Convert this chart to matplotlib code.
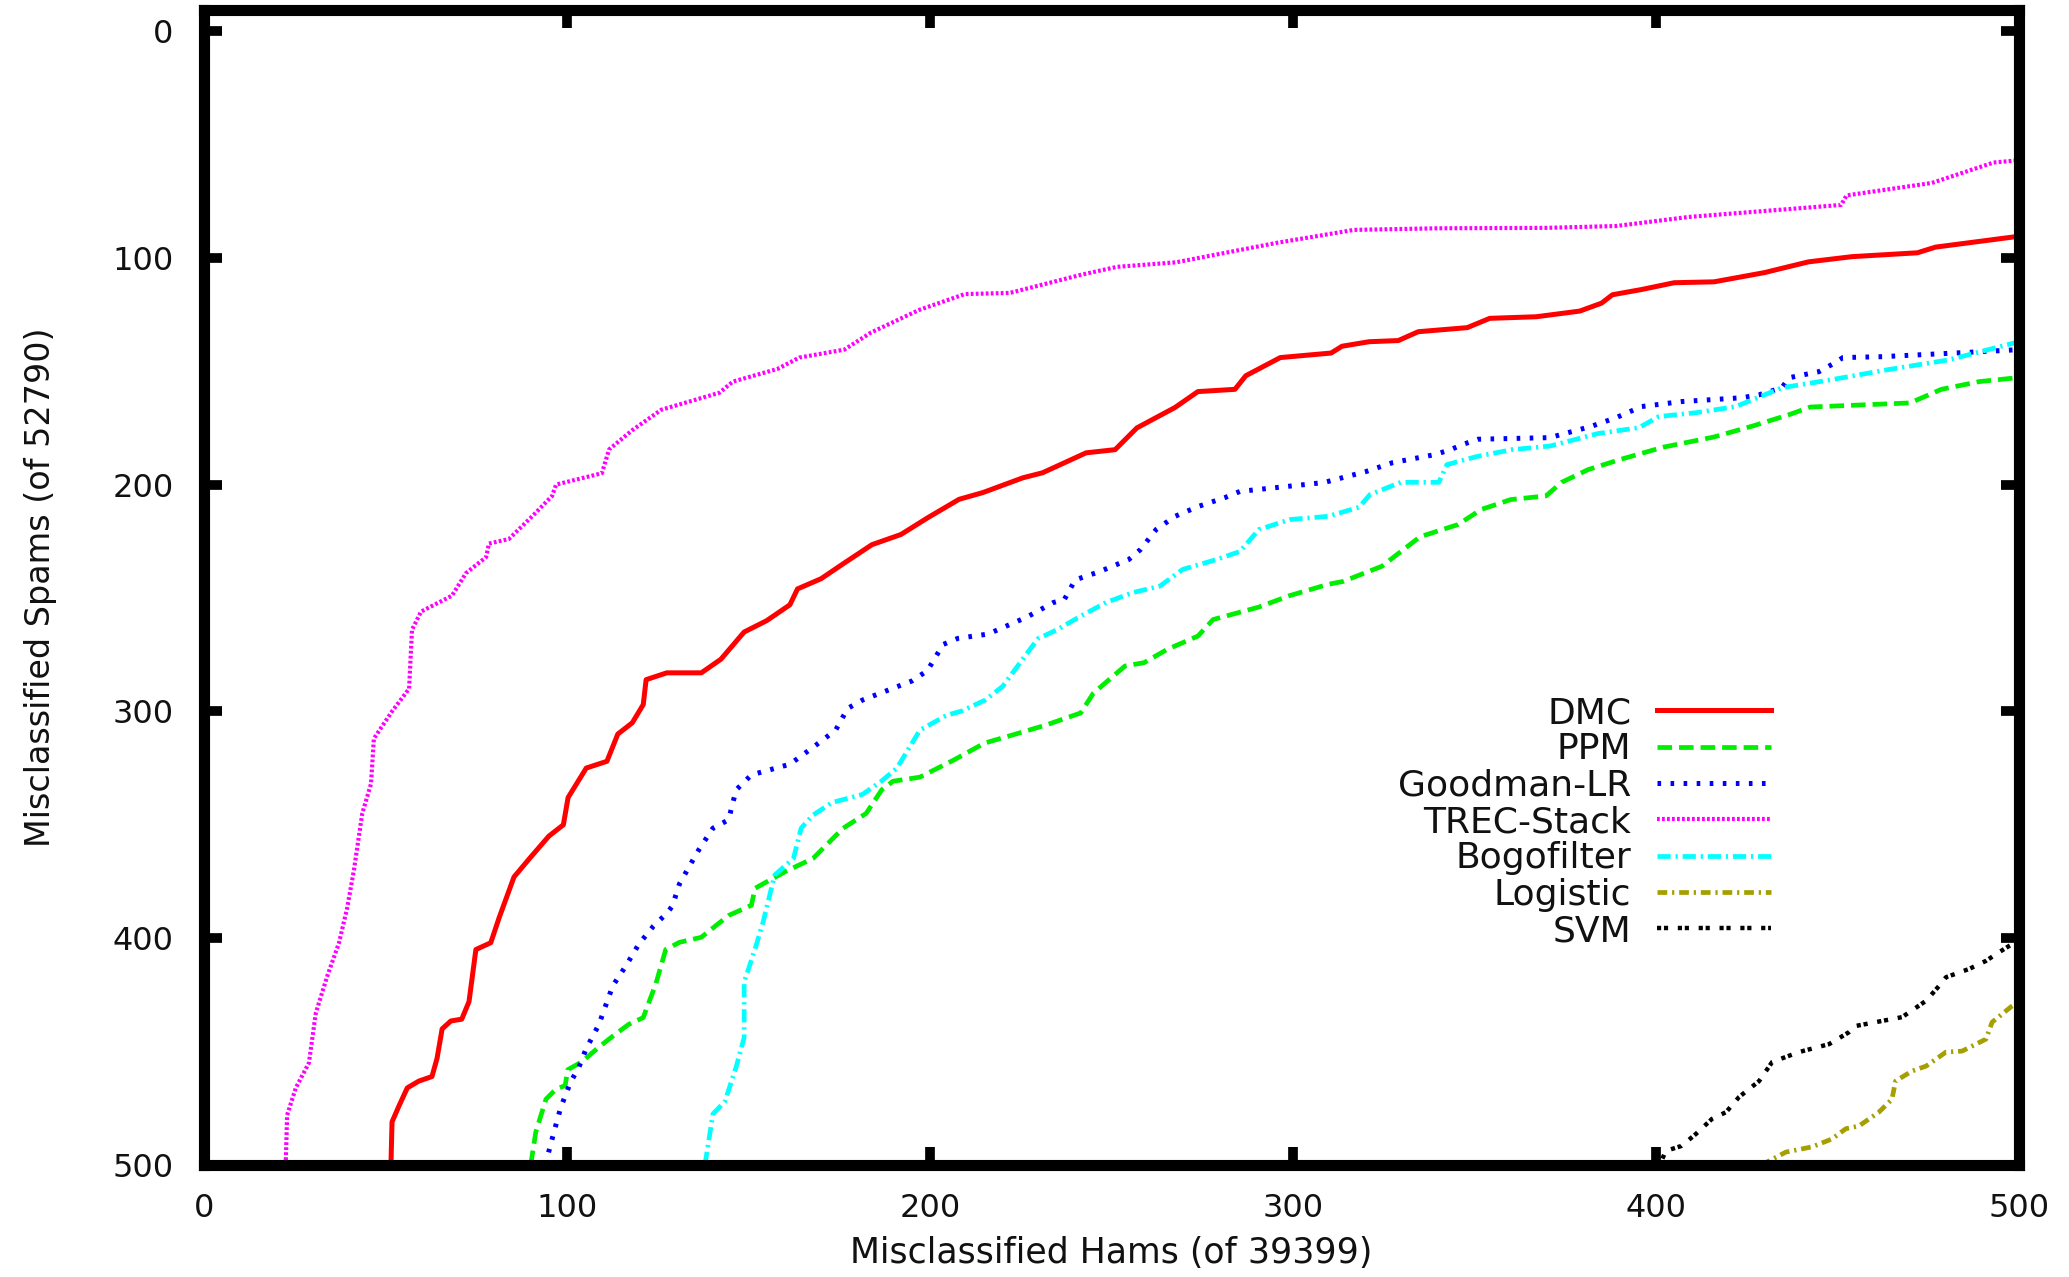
import matplotlib
matplotlib.use("Agg")
import matplotlib.pyplot as plt

plt.rcParams['font.family'] = ['DejaVu Sans']
plt.rcParams['lines.scale_dashes'] = False

# misclassified hams (x) vs misclassified spams (y)
dmc_x = [51.5, 51.8, 53.7, 56, 59.2, 62.8, 64.2, 65.6, 68, 71, 73, 74.9, 79, 81.3, 85.4, 89.6, 95, 99,
         100.3, 105.3, 111, 114, 118, 121, 121.8, 127.5, 137, 142.4, 148.8, 155, 161.4, 163.5, 170, 176,
         184, 192, 199.5, 208, 214.6, 225.6, 231, 243, 251, 257, 267.5, 273.8, 284, 287, 296.5, 310.5,
         313.5, 321, 329, 334.5, 348, 354.2, 367, 379, 385, 388, 396, 405, 416, 430, 433, 442, 454, 472,
         477, 500]
dmc_y = [500, 481, 474, 466, 463, 461, 453, 440, 436.5, 435.7, 428, 405, 402, 391, 373, 365, 355, 350,
         338, 325, 322, 310, 305, 297, 286, 283, 283, 277, 265, 260, 253, 246, 241.5, 235,
         226.5, 222, 214.5, 206.5, 203.5, 197, 194.8, 186, 184.6, 175, 166, 159, 158, 152, 144, 142,
         139, 137, 136.5, 132.6, 130.8, 126.7, 126, 123.5, 120, 116.3, 114, 111, 110.6, 106.5, 105.3, 101.8,
         99.5, 97.8, 95.3, 90.5]

ppm_x = [90, 91.4, 94.2, 97, 99.5, 100.2, 104, 108.8, 113, 117, 121, 124.5, 127.2, 131, 137, 144.5, 150.8,
         151.8, 160.3, 167.8, 176, 182.4, 186.7, 189.8, 197.2, 206.6, 215, 223.6, 232, 241.5, 245, 253.7,
         259, 265.3, 273.8, 278, 290.6, 299, 309.6, 313.8, 324.5, 335, 345.5, 351.8, 360, 369.7, 374,
         381.3, 390, 402, 416, 427, 437, 442.5, 470, 478.6, 489, 500]
ppm_y = [500, 485.5, 471, 466.5, 465, 458, 454.6, 448, 442.7, 438, 435, 420, 405, 401.8, 399.6, 390, 385.5,
         378, 370.5, 364.8, 351.6, 345, 334.6, 330.8, 329, 321.4, 314, 310, 306, 300.7, 292, 280,
         278.5, 272.7, 266.8, 259.5, 254, 249, 244, 242.7, 236, 223, 217.6, 211, 206.6, 205, 199,
         193.4, 189, 183.5, 179, 174, 169, 165.8, 164, 158, 154.6, 152.8]

goodman_x = [94, 96.4, 98.3, 101, 103.3, 105.2, 108.8, 112.6, 116.3, 119.8, 123.8, 127.5, 129, 131, 134.7,
             136.4, 140.2, 144.5, 146.6, 150.8, 161.4, 167.8, 174, 177.3, 181.4, 195, 199.3, 203.6, 207.7,
             216, 226.7, 234, 237, 240, 246.5, 254.8, 258, 262.3, 267.5, 273.8, 281.3, 285.4, 308.5, 320,
             327.5, 339, 343.4, 346.6, 351, 370.7, 382, 389, 396, 407, 423.7, 428.4, 434.7, 436.6, 444.9,
             448.5, 451.5, 462.3, 483.5, 500]
goodman_y = [500, 485.5, 474.5, 463.4, 456.8, 449, 438, 421, 412, 402.6, 394.7, 389, 385.9, 376, 365.5,
             360.8, 351.5, 347.8, 334.6, 328, 323.3, 315.8, 308.3, 298.7, 295, 286.6, 282, 270.5, 267.8,
             265.9, 258.4, 252, 250.7, 242, 238.5, 233, 228.6, 219.8, 214, 209.7, 205.7, 203, 199.1, 194.3,
             190.3, 186.8, 184.6, 182.4, 180, 179.3, 174.4, 170.5, 165.6, 163.4, 161.7, 160.4, 157.3, 152.9,
             150.2, 147, 144, 143.6, 141.9, 140.5]

trec_x = [22.5, 22.9, 25.3, 28.9, 30.8, 33.9, 37.2, 39.4, 41.3, 43.6, 46, 46.8, 51.8, 56.5, 57.3, 59.8,
          68.3, 72.2, 77.7, 78.5, 84, 90.4, 95.9, 97, 109.6, 111.6, 118, 126, 142, 145.7, 158, 164, 176.4,
          183.7, 197, 209.6, 222, 241.6, 251.5, 267.8, 295.6, 316.8, 340, 370, 389, 409, 451, 452.5, 476,
          493, 500]
trec_y = [500, 478, 466, 455, 433, 417, 402, 387, 370, 345, 332, 312, 300, 290, 264, 256,
          249, 239, 232, 226, 224, 214, 205, 200, 195, 184.5, 176, 167, 159.5, 154.6, 149, 144, 140.5,
          133, 123, 116, 115.5, 107.5, 104, 102, 93.4, 87.7, 87, 86.8, 86, 82, 76.7, 72.5, 67,
          58, 57]

bogo_x = [138, 140.2, 143.5, 146.6, 148.8, 148.8, 151.9, 154, 157.2, 162.4, 164.5, 167.7, 173, 181.4,
          186.6, 190.9, 197.2, 204.6, 208.8, 215.2, 220, 225.3, 229.7, 235, 241.5, 248.5, 255.9, 263.3,
          269.6, 279, 285.4, 290.6, 299.2, 309.6, 318.2, 321.2, 329.7, 340.2, 342.4, 350.7, 360.3, 370.8,
          384, 395.3, 400.8, 411, 422, 434.7, 448.5, 464, 480.7, 500]
bogo_y = [500, 477.5, 472, 456.8, 443.8, 419.4, 404.3, 393, 372.2, 364.8, 351.5, 345.8, 340.2, 336.6,
          330.8, 325, 308.3, 301.7, 299.8, 295, 289, 277.5, 268, 264, 258, 252, 247.6, 244.8,
          237.4, 233, 229.5, 219.8, 215.4, 214, 210, 204.4, 199, 199, 191.2, 187.6, 184.6, 183,
          177.5, 174.9, 170, 168.3, 165.6, 157.3, 153.7, 149.3, 145, 137]

logistic_x = [429, 435.8, 443, 448.5, 452.3, 455.9, 461.4, 465, 466, 470.5, 474.4, 479.9, 484.3, 490.9,
              492.6, 498, 500]
logistic_y = [500, 494.3, 492, 488.5, 484, 482.8, 476.7, 471, 463, 458.6, 456.4, 450.2, 449.8, 444.5,
              437, 430, 428]

svm_x = [401, 402.7, 407, 411, 415.4, 419.3, 422.9, 428.4, 432, 439.4, 447.7, 453.2, 455, 467.8, 474.4,
         478, 479.9, 486.2, 490.9, 494.5, 497.2, 500]
svm_y = [500, 493.8, 491.6, 486.3, 479.7, 476.7, 470, 463, 454.6, 450.2, 446.7, 441.4, 438.7, 434.8, 427.6,
         421, 417.2, 413.6, 410, 406.2, 403.5, 401]

x_ticks = [0, 100, 200, 300, 400, 500]
y_ticks = [0, 100, 200, 300, 400, 500]

fig = plt.figure(figsize=(20.69, 12.77), dpi=100)
ax = fig.add_axes([204 / 2069, 1 - 1165 / 1277, (2019 - 204) / 2069, (1165 - 10) / 1277])

ax.plot(dmc_x, dmc_y, color='#ff0000', lw=3.6, solid_joinstyle='round', label='DMC')
ax.plot(ppm_x, ppm_y, color='#00ee00', lw=3.4, dashes=(10.5, 5), label='PPM')
ax.plot(goodman_x, goodman_y, color='#0000ff', lw=3.6, dashes=(2.6, 6.8), label='Goodman-LR')
ax.plot(trec_x, trec_y, color='#ff00ff', lw=3.0, dashes=(2.0, 1.6), label='TREC-Stack')
ax.plot(bogo_x, bogo_y, color='#00ffff', lw=3.4, dashes=(9.5, 3.5, 1.6, 3.5), label='Bogofilter')
ax.plot(logistic_x, logistic_y, color='#a5a000', lw=3.4, dashes=(7, 3.5, 1.6, 3.5), label='Logistic')
ax.plot(svm_x, svm_y, color='#000000', lw=3.2, dashes=(3, 2, 3, 7), label='SVM')

ax.set_xlim(0, 500)
ax.set_ylim(500, -9.25)
ax.set_xticks(x_ticks)
ax.set_yticks(y_ticks)

for s in ax.spines.values():
    s.set_linewidth(8)
ax.tick_params(direction='in', length=13, width=7, labelsize=23, top=True, right=True,
               colors='black', labelcolor='#111111')
ax.tick_params(axis='y', pad=22)
ax.tick_params(axis='x', pad=20)

ax.set_xlabel('Misclassified Hams (of 39399)', fontsize=25, labelpad=9, color='#111111')
ax.set_ylabel('Misclassified Spams (of 52790)', fontsize=24, labelpad=40, color='#111111')

leg = ax.legend(loc='upper right', bbox_to_anchor=(1771 / 2069, 1 - 696 / 1277),
                bbox_transform=fig.transFigure, frameon=False, markerfirst=False,
                fontsize=26, handlelength=3.15, handletextpad=0.72, labelspacing=0.065,
                borderpad=0, borderaxespad=0)
for t in leg.get_texts():
    t.set_color('#111111')

fig.savefig('out.png', dpi=100)
